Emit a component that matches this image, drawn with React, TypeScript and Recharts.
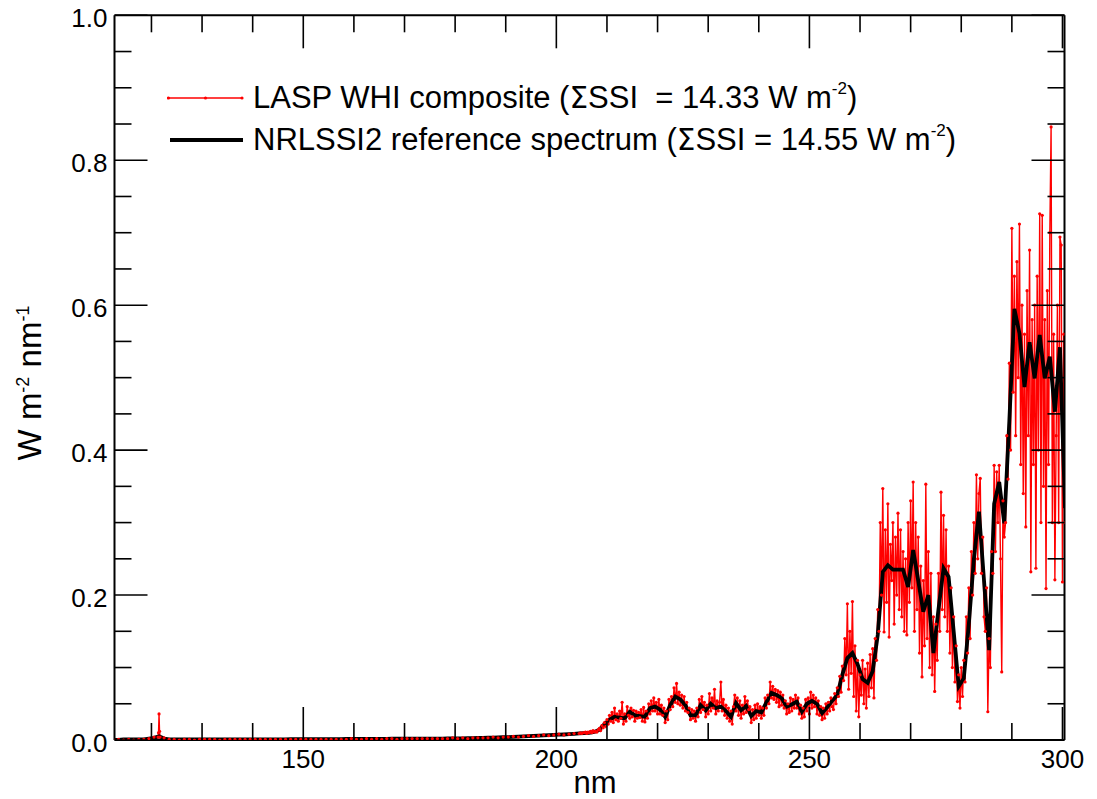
import { LineChart, Line, XAxis, YAxis, Legend } from 'recharts';

const FONT = "'Liberation Sans', Arial, Helvetica, sans-serif";

// NRLSSI2 reference spectrum, 1 nm bins centred on x.5 nm
const nrlStart = 112.5;
const nrlStep = 1;
const nrlFlux = [
  0.000, 0.000, 0.001, 0.001, 0.001, 0.001, 0.001, 0.002, 0.003, 0.005,
  0.002, 0.001, 0.001, 0.001, 0.001, 0.001, 0.001, 0.001, 0.001, 0.001,
  0.001, 0.001, 0.001, 0.001, 0.001, 0.001, 0.001, 0.001, 0.001, 0.001,
  0.001, 0.001, 0.001, 0.001, 0.001, 0.0012, 0.0012, 0.0012, 0.0012, 0.0012,
  0.0012, 0.0012, 0.0013, 0.0013, 0.0013, 0.0013, 0.0014, 0.0014, 0.0014, 0.0015,
  0.0015, 0.0015, 0.0016, 0.0016, 0.0016, 0.0017, 0.0017, 0.0017, 0.0018, 0.0018,
  0.0018, 0.0019, 0.0019, 0.002, 0.002, 0.002, 0.0021, 0.0022, 0.0022, 0.0023,
  0.0025, 0.0026, 0.0028, 0.003, 0.0032, 0.0034, 0.0036, 0.0038, 0.004, 0.0043,
  0.0046, 0.005, 0.0053, 0.0056, 0.006, 0.0063, 0.0066, 0.007, 0.0073, 0.0076,
  0.008, 0.0085, 0.009, 0.0095, 0.010, 0.011, 0.014, 0.022, 0.028, 0.032,
  0.031, 0.030, 0.039, 0.034, 0.033, 0.032, 0.044, 0.046, 0.042, 0.032,
  0.048, 0.060, 0.056, 0.048, 0.034, 0.034, 0.048, 0.041, 0.050, 0.044,
  0.046, 0.040, 0.032, 0.051, 0.041, 0.047, 0.033, 0.040, 0.038, 0.052,
  0.065, 0.062, 0.058, 0.046, 0.049, 0.053, 0.039, 0.050, 0.054, 0.050,
  0.037, 0.045, 0.054, 0.062, 0.090, 0.113, 0.120, 0.105, 0.084, 0.079,
  0.095, 0.145, 0.232, 0.241, 0.235, 0.235, 0.235, 0.211, 0.262, 0.220,
  0.177, 0.200, 0.120, 0.180, 0.237, 0.225, 0.150, 0.074, 0.085, 0.160,
  0.250, 0.315, 0.220, 0.124, 0.326, 0.356, 0.299, 0.440, 0.595, 0.561,
  0.487, 0.549, 0.499, 0.559, 0.499, 0.529, 0.453, 0.542, 0.320,
];

// LASP WHI composite, in pieces with different sampling
const whiFarAStart = 112.5;
const whiFarAStep = 1;
const whiFarA = [0.000, 0.001, 0.000, 0.001, 0.000, 0.001, 0.001, 0.002, 0.004];

// Lyman alpha
const whiLyaStart = 121.3;
const whiLyaStep = 0.1;
const whiLya = [0.004, 0.010, 0.036, 0.012, 0.004];

const whiFarBStart = 122.5;
const whiFarBStep = 1;
const whiFarB = [
  0.003, 0.001, 0.001, 0.000, 0.001, 0.001, 0.000, 0.001, 0.001, 0.001,
  0.001, 0.000, 0.001, 0.001, 0.001, 0.001, 0.001, 0.001, 0.001, 0.001,
  0.001, 0.001, 0.001, 0.001, 0.001, 0.001, 0.001, 0.001, 0.001, 0.001,
  0.001, 0.001, 0.001, 0.001, 0.001, 0.001, 0.001, 0.002, 0.001, 0.001,
  0.002, 0.001, 0.002, 0.001, 0.002, 0.002, 0.001, 0.002, 0.002, 0.002,
  0.002, 0.002, 0.002, 0.002, 0.002, 0.002, 0.002, 0.003, 0.002, 0.003,
  0.002, 0.003, 0.003, 0.003, 0.003, 0.004, 0.003, 0.004, 0.004, 0.005,
  0.004, 0.005, 0.006, 0.005, 0.006, 0.007, 0.006, 0.007, 0.008, 0.007,
  0.008, 0.009,
];

const whiMidStart = 204.5;
const whiMidStep = 0.25;
const whiMid = [
  0.009, 0.010, 0.009, 0.010, 0.010, 0.011, 0.009, 0.011,
  0.010, 0.012, 0.010, 0.013, 0.011, 0.012, 0.011, 0.014,
  0.016, 0.013, 0.020, 0.017, 0.024, 0.019, 0.028, 0.022,
  0.034, 0.026, 0.038, 0.024, 0.044, 0.028, 0.036, 0.026,
  0.040, 0.030, 0.052, 0.022, 0.036, 0.026, 0.046, 0.034,
  0.030, 0.044, 0.032, 0.041, 0.026, 0.040, 0.030, 0.038,
  0.031, 0.042, 0.026, 0.045, 0.025, 0.040, 0.030, 0.050,
  0.036, 0.054, 0.040, 0.058, 0.040, 0.052, 0.036, 0.056,
  0.036, 0.048, 0.034, 0.044, 0.024, 0.040, 0.028, 0.056,
  0.042, 0.060, 0.046, 0.072, 0.052, 0.078, 0.050, 0.066,
  0.048, 0.062, 0.044, 0.060, 0.040, 0.052, 0.038, 0.044,
  0.028, 0.042, 0.030, 0.040, 0.026, 0.044, 0.032, 0.056,
  0.038, 0.060, 0.042, 0.052, 0.032, 0.048, 0.036, 0.064,
  0.040, 0.058, 0.044, 0.070, 0.036, 0.054, 0.040, 0.052,
  0.080, 0.040, 0.056, 0.034, 0.048, 0.030, 0.044, 0.026,
  0.040, 0.022, 0.046, 0.062, 0.040, 0.058, 0.034, 0.054,
  0.030, 0.048, 0.036, 0.060, 0.038, 0.054, 0.042, 0.046,
  0.024, 0.042, 0.028, 0.048, 0.030, 0.050, 0.034, 0.046,
  0.030, 0.044, 0.034, 0.058, 0.044, 0.062, 0.050, 0.080,
  0.058, 0.074, 0.056, 0.070, 0.052, 0.068, 0.046, 0.066,
  0.048, 0.062, 0.044, 0.054, 0.036, 0.050, 0.038, 0.058,
  0.040, 0.056, 0.044, 0.062, 0.044, 0.058, 0.036, 0.048,
  0.030, 0.044, 0.032, 0.056, 0.040, 0.058, 0.036, 0.066,
  0.044, 0.062, 0.046, 0.058, 0.036, 0.054, 0.034, 0.046,
  0.028, 0.044, 0.030, 0.050, 0.036, 0.052, 0.040, 0.058,
  0.046,
];

const whiNearStart = 254.75;
const whiNearStep = 0.25;
const whiNear = [
  0.042, 0.064, 0.050, 0.072,
  0.060, 0.088, 0.066, 0.102,
  0.082, 0.140, 0.090, 0.188,
  0.070, 0.150, 0.092, 0.191,
  0.060, 0.130, 0.040, 0.110,
  0.032, 0.090, 0.062, 0.110,
  0.050, 0.098, 0.044, 0.106,
  0.060, 0.118, 0.072, 0.126,
  0.058, 0.140, 0.110, 0.180,
  0.150, 0.300, 0.200, 0.347,
  0.149, 0.290, 0.190, 0.326,
  0.142, 0.270, 0.220, 0.300,
  0.160, 0.280, 0.200, 0.313,
  0.180, 0.290, 0.170, 0.260,
  0.150, 0.250, 0.145, 0.300,
  0.190, 0.330, 0.210, 0.356,
  0.150, 0.300, 0.180, 0.280,
  0.120, 0.240, 0.087, 0.220,
  0.130, 0.353, 0.140, 0.260,
  0.100, 0.230, 0.090, 0.170,
  0.067, 0.160, 0.110, 0.230,
  0.150, 0.342, 0.180, 0.310,
  0.170, 0.290, 0.150, 0.240,
  0.120, 0.210, 0.100, 0.170,
  0.080, 0.130, 0.053, 0.090,
  0.044, 0.100, 0.060, 0.110,
  0.080, 0.170, 0.120, 0.210,
  0.140, 0.260, 0.200, 0.300,
  0.230, 0.366, 0.250, 0.340,
  0.361, 0.230, 0.280, 0.170,
  0.150, 0.210, 0.039, 0.140,
  0.100, 0.260, 0.230, 0.379,
  0.260, 0.370, 0.300, 0.379,
  0.250, 0.094, 0.330, 0.280,
  0.300, 0.420, 0.360, 0.520,
  0.400, 0.706, 0.480, 0.640,
  0.420, 0.660, 0.500, 0.712,
  0.380, 0.600, 0.340, 0.560,
  0.294, 0.620, 0.420, 0.676,
  0.232, 0.580, 0.380, 0.600,
  0.237, 0.640, 0.400, 0.726,
  0.300, 0.724, 0.350, 0.580,
  0.209, 0.620, 0.380, 0.700,
  0.846, 0.300, 0.560, 0.221,
  0.420, 0.600, 0.300, 0.694,
  0.683, 0.218, 0.560, 0.300,
];

const xTicks = [120, 130, 140, 150, 160, 170, 180, 190, 200, 210, 220, 230, 240, 250, 260, 270, 280, 290, 300];
const xMajor = [150, 200, 250, 300];
const yTicks = [0, 0.05, 0.1, 0.15, 0.2, 0.25, 0.3, 0.35, 0.4, 0.45, 0.5, 0.55, 0.6, 0.65, 0.7, 0.75, 0.8, 0.85, 0.9, 0.95, 1];
const yMajor = [0, 0.2, 0.4, 0.6, 0.8, 1];

const toRows = (start: number, step: number, vals: number[]) =>
  vals.map((v, i) => ({ nm: +(start + i * step).toFixed(2), v }));

const nrlData = toRows(nrlStart, nrlStep, nrlFlux);
const whiData = [
  ...toRows(whiFarAStart, whiFarAStep, whiFarA),
  ...toRows(whiLyaStart, whiLyaStep, whiLya),
  ...toRows(whiFarBStart, whiFarBStep, whiFarB),
  ...toRows(whiMidStart, whiMidStep, whiMid),
  ...toRows(whiNearStart, whiNearStep, whiNear),
];

const MAJOR = 33;
const MINOR = 17;
const TICK_W = 1.6;

function BottomTick(props: any) {
  const { x, y, payload } = props;
  const major = xMajor.includes(payload.value);
  return (
    <g>
      <line x1={x} x2={x} y1={y} y2={y - (major ? MAJOR : MINOR)} stroke="#000" strokeWidth={TICK_W} />
      {major && (
        <text x={x} y={y + 28} textAnchor="middle" fontSize={26} fontFamily={FONT} fill="#000">
          {payload.value}
        </text>
      )}
    </g>
  );
}

function TopTick(props: any) {
  const { x, y, payload } = props;
  const major = xMajor.includes(payload.value);
  return <line x1={x} x2={x} y1={y} y2={y + (major ? MAJOR : MINOR)} stroke="#000" strokeWidth={TICK_W} />;
}

const isYMajor = (v: number) => yMajor.some((m) => Math.abs(m - v) < 1e-6);

function LeftTick(props: any) {
  const { x, y, payload } = props;
  const major = isYMajor(payload.value);
  return (
    <g>
      <line x1={x} x2={x + (major ? MAJOR : MINOR)} y1={y} y2={y} stroke="#000" strokeWidth={TICK_W} />
      {major && (
        <text x={x - 7} y={y + 11.5} textAnchor="end" fontSize={26} fontFamily={FONT} fill="#000">
          {payload.value.toFixed(1)}
        </text>
      )}
    </g>
  );
}

function RightTick(props: any) {
  const { x, y, payload } = props;
  const major = isYMajor(payload.value);
  return <line x1={x} x2={x - (major ? MAJOR : MINOR)} y1={y} y2={y} stroke="#000" strokeWidth={TICK_W} />;
}

const supStyle = { fontSize: '0.55em', verticalAlign: '0.8em', lineHeight: 0 };
const sigmaStyle = { fontFamily: "'DejaVu Sans', sans-serif", fontSize: '0.95em' };

function Key() {
  const row = { display: 'flex', alignItems: 'center', height: 42, whiteSpace: 'pre' as const };
  return (
    <div style={{ fontFamily: FONT, fontSize: 31, color: '#000', lineHeight: '42px' }}>
      <div style={row}>
        <svg width={86} height={10}>
          <line x1={1} x2={76} y1={5} y2={5} stroke="#ff0000" strokeWidth={1.3} />
          {[1.5, 38.5, 75].map((cx) => (
            <circle key={cx} cx={cx} cy={5} r={1.6} fill="#ff0000" />
          ))}
        </svg>
        <span>
          LASP WHI composite (<span style={sigmaStyle}>Σ</span>SSI  = 14.33 W m<span style={supStyle}>-2</span>)
        </span>
      </div>
      <div style={row}>
        <svg width={86} height={10}>
          <line x1={3} x2={76} y1={5} y2={5} stroke="#000" strokeWidth={4} />
        </svg>
        <span>
          NRLSSI2 reference spectrum (<span style={sigmaStyle}>Σ</span>SSI = 14.55 W m<span style={supStyle}>-2</span>)
        </span>
      </div>
    </div>
  );
}

export default function App() {
  return (
    <div style={{ position: 'absolute', left: 0, top: 0, width: 1097, height: 799, background: '#fff' }}>
      <LineChart width={1097} height={799} margin={{ top: 14.3, right: 31.5, bottom: 9, left: 14.5 }}>
        <XAxis
          xAxisId="b"
          type="number"
          dataKey="nm"
          domain={[112.7, 300.4]}
          allowDataOverflow
          ticks={xTicks}
          interval={0}
          height={50}
          tickSize={0}
          tickMargin={0}
          tickLine={false}
          axisLine={{ stroke: '#000', strokeWidth: 2 }}
          tick={BottomTick}
        />
        <XAxis
          xAxisId="t"
          orientation="top"
          type="number"
          dataKey="nm"
          domain={[112.7, 300.4]}
          allowDataOverflow
          ticks={xTicks}
          interval={0}
          height={1}
          tickSize={0}
          tickMargin={0}
          tickLine={false}
          axisLine={{ stroke: '#000', strokeWidth: 2 }}
          tick={TopTick}
        />
        <YAxis
          yAxisId="l"
          type="number"
          domain={[0, 1]}
          allowDataOverflow
          ticks={yTicks}
          interval={0}
          width={100}
          tickSize={0}
          tickMargin={0}
          tickLine={false}
          axisLine={{ stroke: '#000', strokeWidth: 2 }}
          tick={LeftTick}
        />
        <YAxis
          yAxisId="r"
          orientation="right"
          type="number"
          domain={[0, 1]}
          allowDataOverflow
          ticks={yTicks}
          interval={0}
          width={1}
          tickSize={0}
          tickMargin={0}
          tickLine={false}
          axisLine={{ stroke: '#000', strokeWidth: 2 }}
          tick={RightTick}
        />
        <Legend
          verticalAlign="middle"
          align="center"
          layout="horizontal"
          wrapperStyle={{ left: 167, top: 77, width: 850 }}
          content={() => <Key />}
        />
        {/* invisible series so the mirrored top/right axes get drawn */}
        <Line
          xAxisId="t"
          yAxisId="r"
          data={nrlData}
          dataKey="v"
          stroke="none"
          dot={false}
          activeDot={false}
          legendType="none"
          isAnimationActive={false}
        />
        <Line
          xAxisId="b"
          yAxisId="l"
          data={whiData}
          dataKey="v"
          name="LASP WHI composite"
          stroke="#ff0000"
          strokeWidth={1.4}
          dot={{ r: 1.6, fill: '#ff0000', stroke: 'none' }}
          activeDot={false}
          isAnimationActive={false}
        />
        <Line
          xAxisId="b"
          yAxisId="l"
          data={nrlData}
          dataKey="v"
          name="NRLSSI2 reference spectrum"
          stroke="#000"
          strokeWidth={3.8}
          dot={false}
          activeDot={false}
          isAnimationActive={false}
        />
        <text x={595} y={793} textAnchor="middle" fontSize={31} fontFamily={FONT} fill="#000">
          nm
        </text>
        <text
          x={41}
          y={383}
          transform="rotate(-90, 41, 383)"
          textAnchor="middle"
          fontSize={33}
          fontFamily={FONT}
          fill="#000"
        >
          <tspan>W m</tspan>
          <tspan dy={-12} fontSize={18}>-2</tspan>
          <tspan dy={12}> nm</tspan>
          <tspan dy={-12} fontSize={18}>-1</tspan>
        </text>
      </LineChart>
    </div>
  );
}
